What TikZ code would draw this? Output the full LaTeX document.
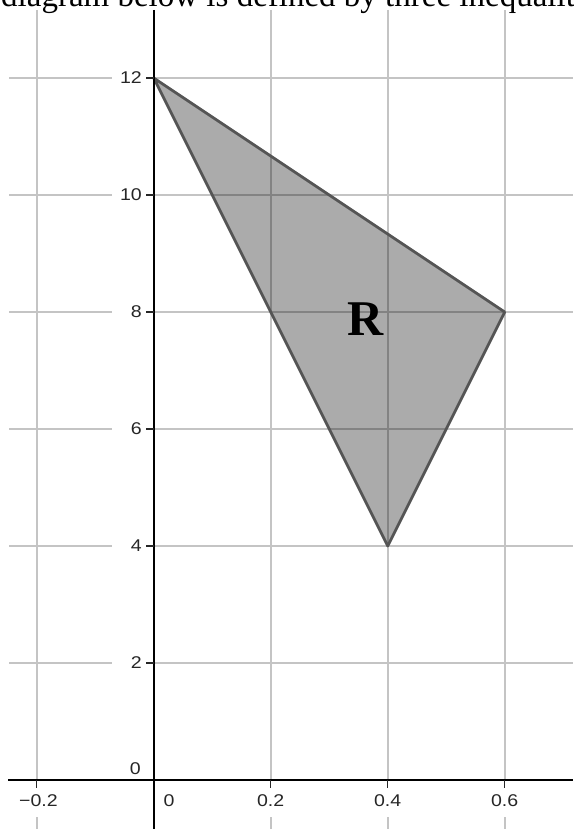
\documentclass[tikz,border=0pt]{standalone}
\usepackage{fontspec}
\setmainfont{Liberation Serif}
\newfontfamily\lblfont{Liberation Sans}
\definecolor{gridgray}{HTML}{C4C4C4}
\definecolor{lblgray}{HTML}{262626}
\definecolor{edgegray}{HTML}{555555}
\tikzset{
  gridline/.style={draw=gridgray, line width=1.6pt},
  axisline/.style={draw=black, line width=1.8pt},
  tickline/.style={draw=black!85, line width=1.5pt},
  ticklbl/.style={font=\lblfont\fontsize{17}{17}\selectfont, text=lblgray, inner sep=0pt, xscale=1.15},
  region/.style={fill=black, fill opacity=0.33, draw=edgegray, draw opacity=1, line width=2.8pt, line join=round},
}
\begin{document}
\begin{tikzpicture}[x=1pt,y=-1pt]
\useasboundingbox (0,0) rectangle (573,829);
\clip (0,0) rectangle (573,829);
% top text (cut off at the page edge, as in the reference)
\node[anchor=base west, inner sep=0pt, font=\fontsize{33}{33}\selectfont] (toptext) at (1,7) {diagram below is defined by three inequalities};
% horizontal grid lines
\foreach \yy in {78,195,312,429,546,663} {
  \draw[gridline] (9,\yy) -- (112,\yy);
  \draw[gridline] (153.7,\yy) -- (573,\yy);
}
% vertical grid lines
\foreach \xx in {36.7,270.7,387.7,504.7} {
  \draw[gridline] (\xx,10) -- (\xx,780);
  \draw[gridline] (\xx,817) -- (\xx,829);
}
% triangle region
\coordinate (A) at (153.7,78);
\coordinate (B) at (504.7,312);
\coordinate (C) at (387.7,546);
\draw[region] (A) -- (B) -- (C) -- cycle;
% axes
\coordinate (xl) at (8,780);
\coordinate (xr) at (573,780);
\coordinate (yt) at (153.7,10);
\coordinate (yb) at (153.7,829);
\draw[axisline] (xl) -- (xr);
\draw[axisline] (yt) -- (yb);
% ticks
\foreach \yy in {78,195,312,429,546,663} {
  \draw[tickline] (146.2,\yy) -- (153.7,\yy);
}
\foreach \xx in {36.7,270.7,387.7,504.7} {
  \draw[tickline] (\xx,780) -- (\xx,787.5);
}
% y labels
\node[ticklbl, anchor=east] (y12) at (142,78) {12};
\node[ticklbl, anchor=east] (y10) at (142,195) {10};
\node[ticklbl, anchor=east] (y8) at (142,312) {8};
\node[ticklbl, anchor=east] (y6) at (142,429) {6};
\node[ticklbl, anchor=east] (y4) at (142,546) {4};
\node[ticklbl, anchor=east] (y2) at (142,663) {2};
\node[ticklbl, anchor=east] (y0) at (141,769) {0};
% x labels
\node[ticklbl] (xm2) at (38.5,801) {\char"2212 0.2};
\node[ticklbl] (x0) at (169,801) {0};
\node[ticklbl] (x2) at (270.7,801) {0.2};
\node[ticklbl] (x4) at (387.7,801) {0.4};
\node[ticklbl] (x6) at (504.7,801) {0.6};
% region label
\node[anchor=base, inner sep=0pt, font=\bfseries\fontsize{50}{50}\selectfont] (R) at (365.5,335) {R};
\end{tikzpicture}
\end{document}
